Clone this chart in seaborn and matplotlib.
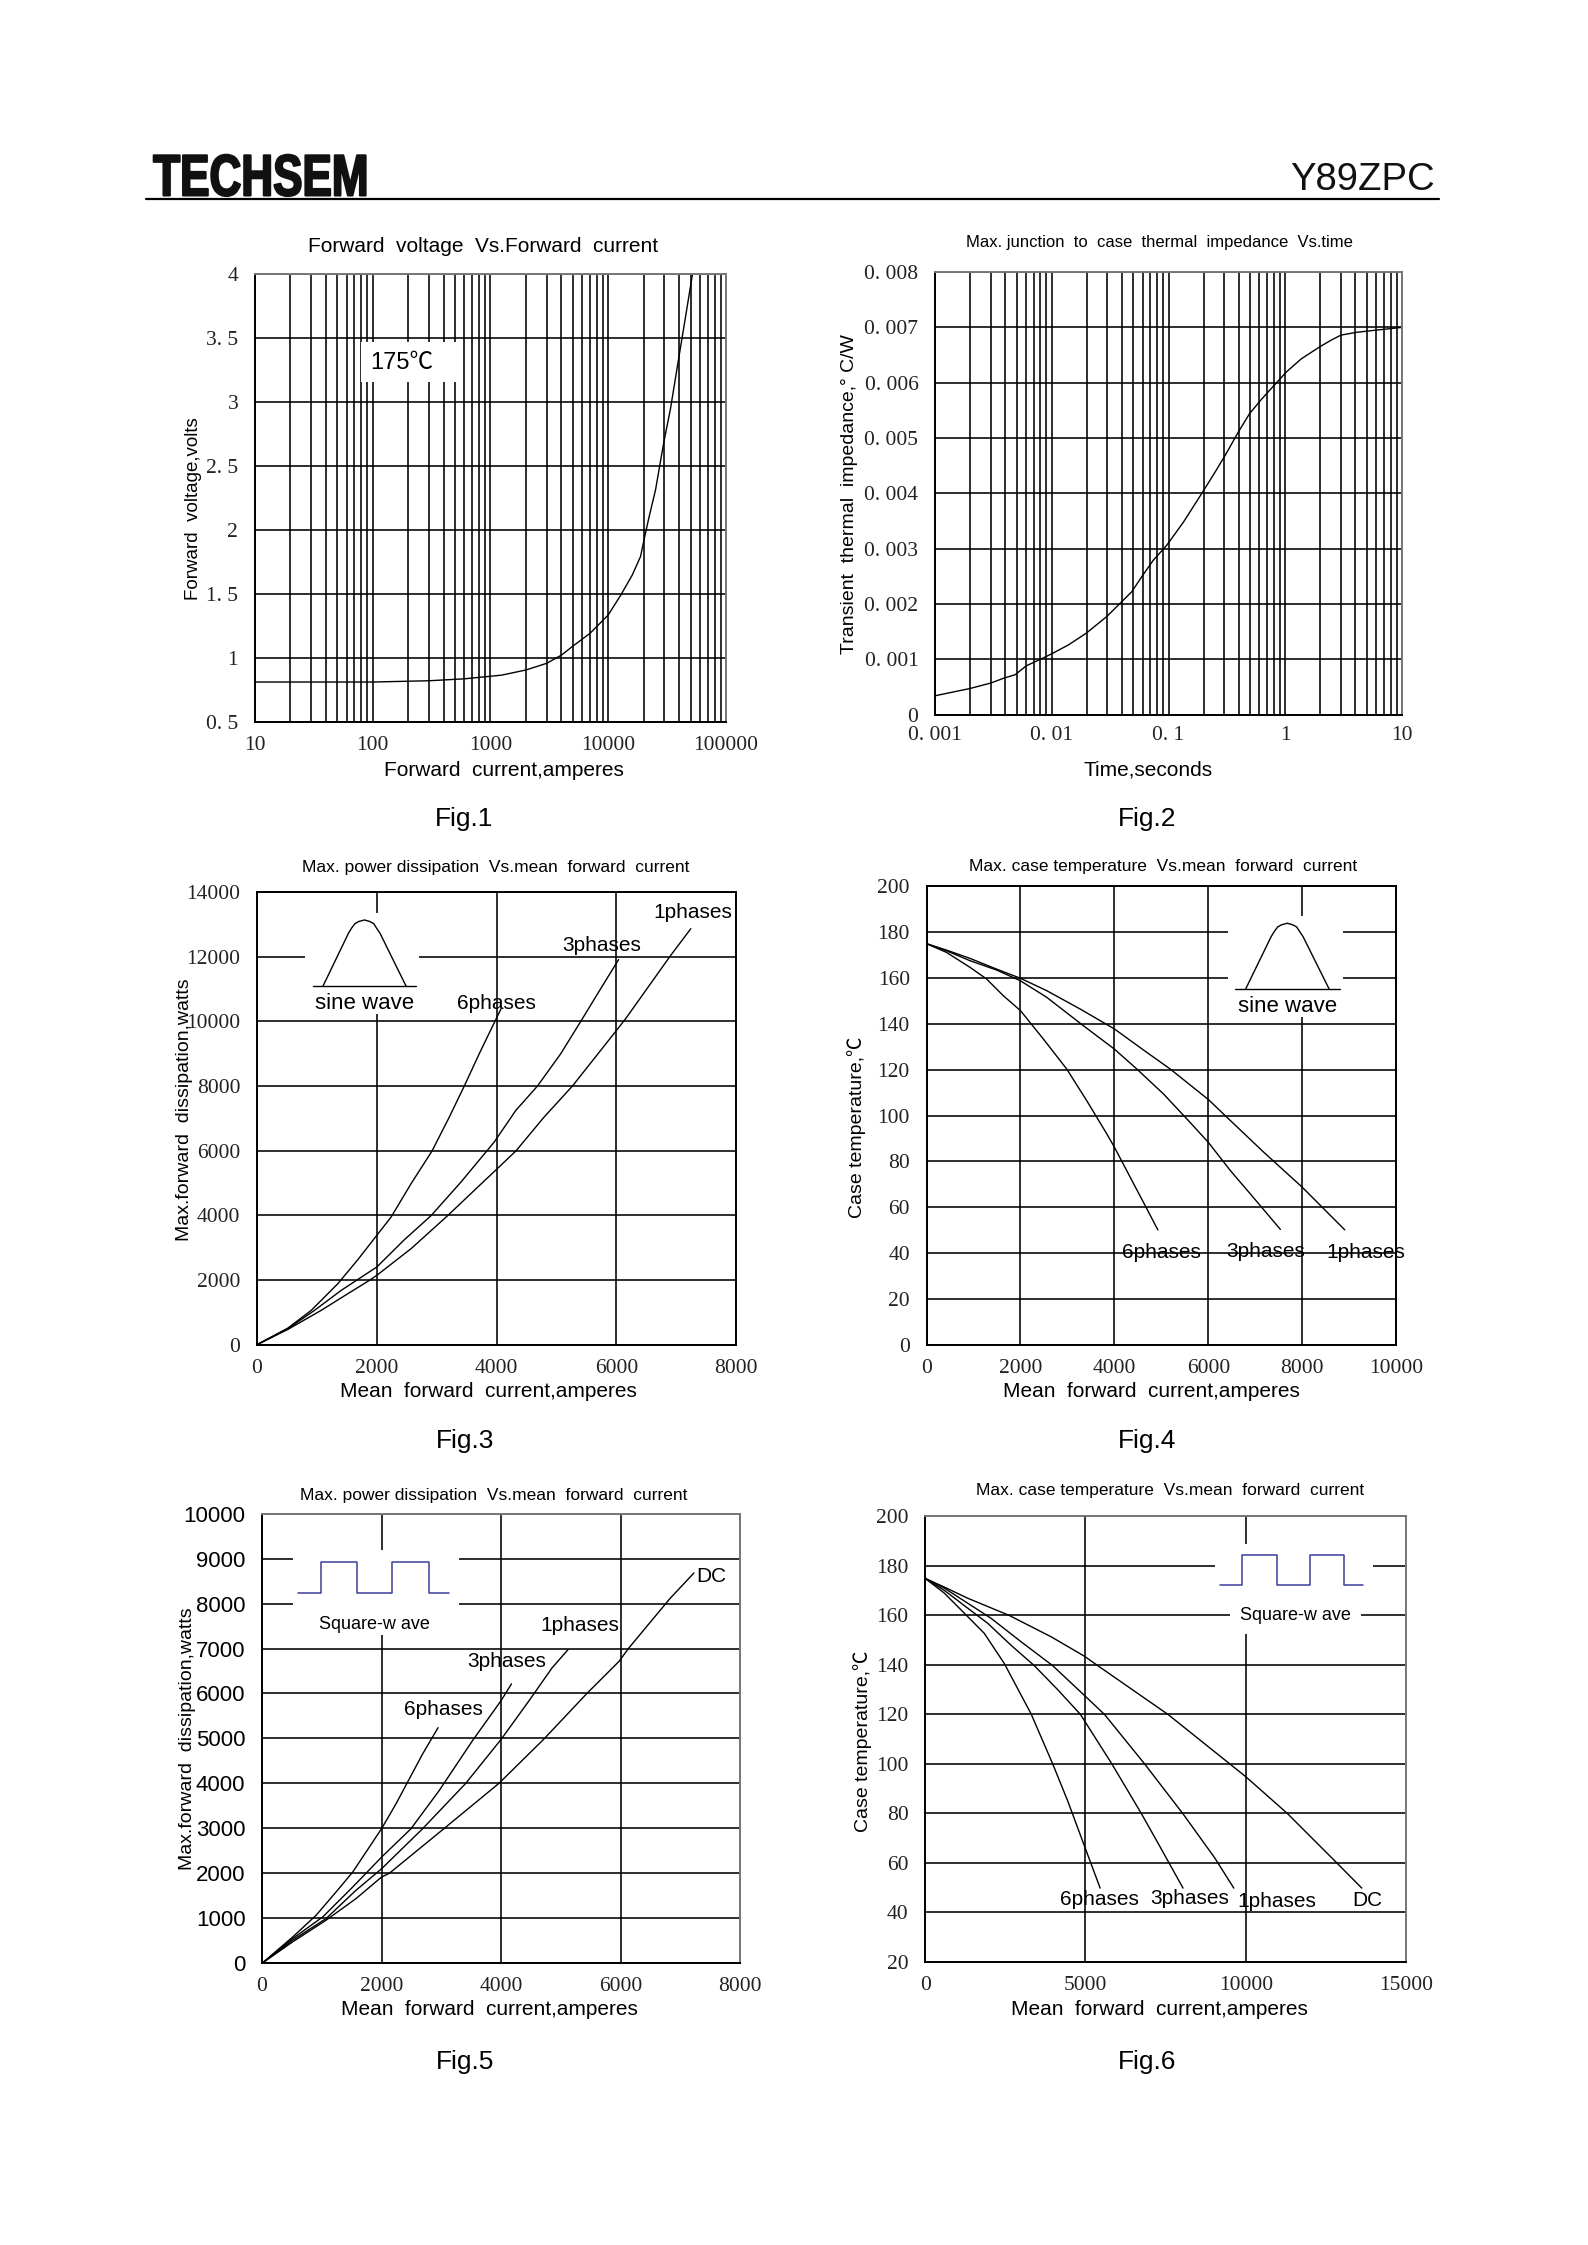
import matplotlib
matplotlib.use('Agg')
import matplotlib.pyplot as plt
from matplotlib.patches import Rectangle
from matplotlib.patheffects import AbstractPathEffect
from matplotlib.ticker import LogLocator, NullFormatter
from matplotlib.transforms import Affine2D
import seaborn as sns

# --- values ---
F1_CURRENT = [10, 30, 100, 300, 600, 1000, 1247, 2000, 3000, 4000, 5000, 7000, 10000, 12800, 16000, 18800, 20400, 22100, 25200, 29600, 33700, 39600, 45100, 52000]
F1_VOLTAGE = [0.81, 0.81, 0.81, 0.82, 0.835, 0.855, 0.864, 0.904, 0.956, 1.02, 1.09, 1.19, 1.334, 1.49, 1.646, 1.79, 1.946, 2.09, 2.31, 2.68, 2.94, 3.335, 3.65, 4.0]

F2_TIME = [0.001, 0.00111, 0.00198, 0.003, 0.0039, 0.00485, 0.00603, 0.00877, 0.01, 0.0139, 0.0197, 0.0295, 0.0397, 0.0484, 0.0589, 0.074, 0.0965, 0.1343, 0.1957, 0.25, 0.3046, 0.3945, 0.4945, 0.6265, 0.8415, 1.03, 1.37, 1.98, 2.48, 3.0, 4.05, 5.97, 10]
F2_IMPEDANCE = [0.00034, 0.00036, 0.00047, 0.00057, 0.00066, 0.00072, 0.00088, 0.00104, 0.0011, 0.00126, 0.00147, 0.00177, 0.00204, 0.00222, 0.00249, 0.00279, 0.00306, 0.00348, 0.00402, 0.00438, 0.00468, 0.0051, 0.00544, 0.0057, 0.006, 0.0062, 0.00643, 0.00665, 0.00677, 0.00686, 0.00691, 0.00695, 0.007]

F3_6P_X = [0, 517, 906, 1350, 1683, 2000, 2239, 2572, 2922, 3211, 3461, 3711, 3972, 4072]
F3_6P_Y = [0, 515, 1062, 1887, 2629, 3381, 3948, 4979, 5990, 7041, 8000, 9000, 10000, 10380]
F3_3P_X = [0, 517, 961, 1406, 2000, 2461, 2906, 3406, 3961, 4322, 4683, 5072, 5406, 5755, 6038]
F3_3P_Y = [0, 495, 1062, 1680, 2402, 3247, 3990, 5031, 6268, 7247, 8000, 9000, 10000, 11060, 11912]
F3_1P_X = [0, 517, 1072, 1517, 1878, 2000, 2572, 3183, 3628, 4000, 4322, 4794, 5267, 5628, 5972, 6155, 6905, 7244]
F3_1P_Y = [0, 474, 1062, 1577, 1990, 2144, 2969, 3990, 4773, 5423, 5990, 7041, 8000, 8845, 9649, 10082, 12034, 12868]

F4_6P_X = [0, 426, 924, 1279, 1635, 2000, 2488, 2985, 3411, 3838, 4000, 4336, 4691, 4925]
F4_6P_Y = [175, 171.2, 164.7, 159.6, 152.3, 145.8, 133.4, 120.3, 106.5, 92, 86.2, 73.1, 59.3, 50.1]
F4_3P_X = [0, 426, 924, 1493, 2000, 2559, 3340, 4000, 4478, 5046, 5544, 6000, 6468, 6894, 7534]
F4_3P_Y = [175, 171.9, 167.6, 163.5, 158.8, 151.6, 139.2, 129, 120.3, 109.4, 98.5, 88.3, 76, 65.8, 50.3]
F4_1P_X = [0, 426, 924, 1493, 2000, 2559, 3270, 4000, 4620, 5188, 6000, 6398, 7179, 8000, 8905]
F4_1P_Y = [175, 172.2, 168.6, 163.9, 159.9, 154.5, 146.5, 137.8, 128.6, 120.3, 107, 99.2, 84, 68.7, 50.1]

F5_6P_X = [0, 517, 906, 1239, 1517, 1794, 2000, 2239, 2461, 2683, 2944]
F5_6P_Y = [0, 590, 1070, 1587, 2030, 2583, 2996, 3542, 4096, 4649, 5240]
F5_3P_X = [0, 517, 1017, 1517, 2000, 2489, 2961, 3517, 4000, 4172]
F5_3P_Y = [0, 554, 1033, 1697, 2362, 2989, 3838, 4945, 5845, 6214]
F5_1P_X = [0, 517, 1072, 1572, 2000, 2683, 3406, 4000, 4461, 4850, 5117]
F5_1P_Y = [0, 517, 996, 1624, 2103, 2989, 4000, 4982, 5830, 6568, 6974]
F5_DC_X = [0, 517, 1072, 1572, 2000, 2128, 3044, 3961, 4711, 5433, 5972, 6128, 6821, 7224]
F5_DC_Y = [0, 480, 959, 1439, 1919, 2000, 2996, 4000, 4982, 6000, 6716, 7000, 8109, 8681]

F6_6P_X = [0, 594, 1271, 1844, 2469, 3302, 3979, 4448, 4969, 5458]
F6_6P_Y = [175, 169.1, 160.3, 152.8, 140.6, 120.3, 100, 85, 66.8, 49.8]
F6_3P_X = [0, 594, 1323, 1948, 2677, 3406, 4135, 4844, 5823, 6740, 7313, 8042]
F6_3P_Y = [175, 170.2, 163, 156.9, 148, 139.7, 130, 120, 100, 80, 66.8, 49.8]
F6_1P_X = [0, 594, 1323, 2052, 2990, 3979, 4958, 5594, 6844, 8042, 9031, 9625]
F6_1P_Y = [175, 171.1, 165, 158.9, 149.4, 139.7, 127.8, 120, 100, 79.8, 62, 49.8]
F6_DC_X = [0, 594, 1323, 2625, 3927, 4958, 5385, 7573, 9500, 10000, 11292, 12781, 13615]
F6_DC_Y = [175, 171.5, 167, 160, 151.4, 143.6, 139.7, 120, 100, 94.8, 80, 60.7, 49.8]

SINE_X = [0.156, 0.38, 0.407, 0.436, 0.47, 0.52, 0.565, 0.60, 0.625, 0.655, 0.884]
SINE_Y = [0.275, 0.80, 0.85, 0.894, 0.915, 0.93, 0.915, 0.894, 0.85, 0.80, 0.275]
SQUARE_X = [0.03, 0.17, 0.17, 0.39, 0.39, 0.60, 0.60, 0.82, 0.82, 0.94]
SQUARE_Y = [0, 0, 1, 1, 0, 0, 1, 1, 0, 0]

LOG1_TICKS = [10, 100, 1000, 10000, 100000]
LOG1_LABELS = ['10', '100', '1000', '10000', '100000']
F1_YTICKS = [0.5, 1, 1.5, 2, 2.5, 3, 3.5, 4]
F1_YLABELS = ['0. 5', '1', '1. 5', '2', '2. 5', '3', '3. 5', '4']
LOG2_TICKS = [0.001, 0.01, 0.1, 1, 10]
LOG2_LABELS = ['0. 001', '0. 01', '0. 1', '1', '10']
F2_YTICKS = [0, 0.001, 0.002, 0.003, 0.004, 0.005, 0.006, 0.007, 0.008]
F2_YLABELS = ['0', '0. 001', '0. 002', '0. 003', '0. 004', '0. 005', '0. 006', '0. 007', '0. 008']

SANS = ['Liberation Sans', 'Noto Sans CJK SC']
SERIF = 'Liberation Serif'
WAVE_BLUE = '#3b3f9a'

sns.set_theme(style='whitegrid')
plt.rcParams['font.family'] = SANS

W, H = 1588, 2245
SCALE = 1.432  # page pixels per layout unit
fig = plt.figure(figsize=(W / 100, H / 100), dpi=100, facecolor='white')


def fx(x):
    return x * SCALE / W


def fy(y):
    return 1 - y * SCALE / H


class SqueezedBold(AbstractPathEffect):
    # the logo face is a heavy condensed one, so narrow and thicken the glyphs
    def __init__(self, x0, factor, stroke):
        super().__init__()
        self.x0, self.factor, self.stroke = x0, factor, stroke

    def draw_path(self, renderer, gc, tpath, affine, rgbFace=None):
        squeeze = Affine2D().translate(-self.x0, 0).scale(self.factor, 1).translate(self.x0, 0)
        gc0 = renderer.new_gc()
        gc0.copy_properties(gc)
        gc0.set_linewidth(self.stroke)
        gc0.set_foreground(rgbFace)
        renderer.draw_path(gc0, tpath, affine + squeeze, rgbFace)
        gc0.restore()


def make_axes(l, r, t, b, edge='#777777'):
    ax = fig.add_axes([fx(l), fy(b), fx(r) - fx(l), fy(t) - fy(b)])
    ax.set_facecolor('white')
    ax.set_axisbelow(True)
    ax.grid(True, which='both', color='black', linewidth=1.15)
    for side in ['left', 'bottom']:
        ax.spines[side].set_color('black')
        ax.spines[side].set_linewidth(1.4)
    for side in ['top', 'right']:
        ax.spines[side].set_color(edge)
        ax.spines[side].set_linewidth(1.4)
    return ax


def curve(ax, xs, ys):
    sns.lineplot(x=xs, y=ys, ax=ax, color='black', linewidth=1.0, estimator=None, sort=False, errorbar=None)


def finish(ax, xticks, xlabels, yticks, ylabels, ysans=False, xpad=10, ypad=12):
    ax.set_xticks(xticks)
    ax.set_xticklabels(xlabels, family=SERIF, fontsize=15.5, color='#222222')
    ax.set_yticks(yticks)
    ax.set_yticklabels(ylabels, family='Liberation Sans' if ysans else SERIF, fontsize=16 if ysans else 15.5, color='#222222' if not ysans else 'black')
    ax.tick_params(axis='x', which='both', length=0, pad=xpad)
    ax.tick_params(axis='y', which='both', length=0, pad=ypad)


def labels(ax, xlabel, xpos, ylabel, ypos, title, tpos, tsize, cap, cpos, xsize=15, ysize=14):
    ax.set_xlabel(xlabel, fontsize=xsize, color='black', va='center', ha='center')
    ax.xaxis.set_label_coords(fx(xpos[0]), fy(xpos[1]), transform=fig.transFigure)
    ax.set_ylabel(ylabel, fontsize=ysize, color='black', va='center', ha='center')
    ax.yaxis.set_label_coords(fx(ypos[0]), fy(ypos[1]), transform=fig.transFigure)
    fig.text(fx(tpos[0]), fy(tpos[1]), title, fontsize=tsize, ha='center', va='center', color='black')
    fig.text(fx(cpos[0]), fy(cpos[1]), cap, fontsize=19, ha='center', va='center', color='black')


def wave_inset(ax, x0, x1, y0, y1):
    # white box that knocks the grid out behind the little waveform
    ins = ax.inset_axes([x0, y0, x1 - x0, y1 - y0], transform=ax.transData)
    ins.set_facecolor('white')
    ins.grid(False)
    ins.set_xticks([])
    ins.set_yticks([])
    for s in ins.spines.values():
        s.set_visible(False)
    ins.set_xlim(0, 1)
    ins.set_ylim(0, 1)
    ins.set_zorder(1.5)
    return ins


def sine_inset(ax, x0, x1, y0, y1):
    ins = wave_inset(ax, x0, x1, y0, y1)
    sns.lineplot(x=SINE_X, y=SINE_Y, ax=ins, color='black', linewidth=1.0, estimator=None, sort=False, errorbar=None)
    ins.plot([0.067, 0.975], [0.275, 0.275], color='black', lw=1.0)
    ins.text(0.52, 0.10, 'sine wave', fontsize=16, ha='center', va='center', color='black')


def square_inset(ax, x0, x1, y0, y1, ylo, yhi):
    ins = wave_inset(ax, x0, x1, y0, y1)
    sns.lineplot(x=SQUARE_X, y=SQUARE_Y, ax=ins, color=WAVE_BLUE, linewidth=1.1, estimator=None, sort=False, errorbar=None)
    ins.set_ylim(ylo, yhi)
    return ins


# header
logo = fig.text(fx(107), fy(136.5), 'TECHSEM', fontsize=42, fontweight='bold', family='Liberation Sans',
                ha='left', va='baseline', color='#111111')
logo.set_path_effects([SqueezedBold(107 * SCALE, 0.755, 1.5)])
fig.text(fx(1002), fy(132.5), 'Y89ZPC', fontsize=27.5, ha='right', va='baseline', color='#111111')
fig.add_artist(plt.Line2D([fx(102), fx(1005)], [fy(139), fy(139)], color='black', lw=1.6))

# Fig.1
ax = make_axes(178, 507, 191, 504)
curve(ax, F1_CURRENT, F1_VOLTAGE)
ax.set_xscale('log')
ax.set_xlim(10, 100000)
ax.set_ylim(0.5, 4)
finish(ax, LOG1_TICKS, LOG1_LABELS, F1_YTICKS, F1_YLABELS)
ax.xaxis.set_minor_locator(LogLocator(base=10, subs=range(2, 10), numticks=20))
ax.xaxis.set_minor_formatter(NullFormatter())
ax.add_patch(Rectangle((79, 3.149), 511 - 79, 3.465 - 3.149, facecolor='white', edgecolor='none', zorder=1.5))
ax.text(95, 3.30, '175℃', fontsize=17, ha='left', va='center', color='black', zorder=3)
labels(ax, 'Forward  current,amperes', (352, 538), 'Forward  voltage,volts', (135, 355),
       'Forward  voltage  Vs.Forward  current', (337, 172), 15, 'Fig.1', (324, 572), ysize=13.5)

# Fig.2
ax = make_axes(653, 979, 190, 499)
curve(ax, F2_TIME, F2_IMPEDANCE)
ax.set_xscale('log')
ax.set_xlim(0.001, 10)
ax.set_ylim(0, 0.008)
finish(ax, LOG2_TICKS, LOG2_LABELS, F2_YTICKS, F2_YLABELS, xpad=8)
ax.xaxis.set_minor_locator(LogLocator(base=10, subs=range(2, 10), numticks=20))
ax.xaxis.set_minor_formatter(NullFormatter())
labels(ax, 'Time,seconds', (802, 538), 'Transient  thermal  impedance,° C/W', (593, 345),
       'Max. junction  to  case  thermal  impedance  Vs.time', (810, 169), 12, 'Fig.2', (801, 572))

# Fig.3
ax = make_axes(179.5, 514, 623, 939, edge='black')
curve(ax, F3_6P_X, F3_6P_Y)
curve(ax, F3_3P_X, F3_3P_Y)
curve(ax, F3_1P_X, F3_1P_Y)
ax.set_xlim(0, 8000)
ax.set_ylim(0, 14000)
finish(ax, [0, 2000, 4000, 6000, 8000], ['0', '2000', '4000', '6000', '8000'],
       list(range(0, 14001, 2000)), [str(v) for v in range(0, 14001, 2000)])
sine_inset(ax, 804, 2710, 10233, 13358)
for txt, x, y in [('6phases', 3993, 10564), ('3phases', 5760, 12340), ('1phases', 7286, 13358)]:
    ax.text(x, y, txt, fontsize=15, ha='center', va='center', color='black', zorder=3)
labels(ax, 'Mean  forward  current,amperes', (341, 972), 'Max.forward  dissipation,watts', (129, 775),
       'Max. power dissipation  Vs.mean  forward  current', (346, 606), 12.5, 'Fig.3', (325, 1006))

# Fig.4
ax = make_axes(647, 975, 619, 939, edge='black')
curve(ax, F4_6P_X, F4_6P_Y)
curve(ax, F4_3P_X, F4_3P_Y)
curve(ax, F4_1P_X, F4_1P_Y)
ax.set_xlim(0, 10000)
ax.set_ylim(0, 200)
finish(ax, [0, 2000, 4000, 6000, 8000, 10000], ['0', '2000', '4000', '6000', '8000', '10000'],
       list(range(0, 201, 20)), [str(v) for v in range(0, 201, 20)])
sine_inset(ax, 6410, 8859, 143, 187)
for txt, x, y in [('6phases', 4996, 40), ('3phases', 7224, 40.6), ('1phases', 9346, 40)]:
    ax.text(x, y, txt, fontsize=15, ha='center', va='center', color='black', zorder=3)
labels(ax, 'Mean  forward  current,amperes', (804, 972), 'Case temperature,℃', (598, 787),
       'Max. case temperature  Vs.mean  forward  current', (812, 605), 12.5, 'Fig.4', (801, 1006))

# Fig.5
ax = make_axes(183, 517, 1057, 1371)
curve(ax, F5_6P_X, F5_6P_Y)
curve(ax, F5_3P_X, F5_3P_Y)
curve(ax, F5_1P_X, F5_1P_Y)
curve(ax, F5_DC_X, F5_DC_Y)
ax.set_xlim(0, 8000)
ax.set_ylim(0, 10000)
finish(ax, [0, 2000, 4000, 6000, 8000], ['0', '2000', '4000', '6000', '8000'],
       list(range(0, 10001, 1000)), [str(v) for v in range(0, 10001, 1000)], ysans=True)
ins = square_inset(ax, 513, 3286, 7300, 9182, -1.389, 1.389)
ins.text(0.495, -1.05, 'Square-w ave', fontsize=13, ha='center', va='center', color='black')
for txt, x, y in [('6phases', 3029, 5646), ('3phases', 4097, 6719), ('1phases', 5310, 7511), ('DC', 7522, 8593)]:
    ax.text(x, y, txt, fontsize=15, ha='center', va='center', color='black', zorder=3)
labels(ax, 'Mean  forward  current,amperes', (342, 1403), 'Max.forward  dissipation,watts', (131, 1214),
       'Max. power dissipation  Vs.mean  forward  current', (345, 1044), 12.5, 'Fig.5', (325, 1440))

# Fig.6
ax = make_axes(646, 982, 1059, 1370)
curve(ax, F6_6P_X, F6_6P_Y)
curve(ax, F6_3P_X, F6_3P_Y)
curve(ax, F6_1P_X, F6_1P_Y)
curve(ax, F6_DC_X, F6_DC_Y)
ax.set_xlim(0, 15000)
ax.set_ylim(20, 200)
finish(ax, [0, 5000, 10000, 15000], ['0', '5000', '10000', '15000'],
       list(range(20, 201, 20)), [str(v) for v in range(20, 201, 20)])
square_inset(ax, 9044, 13953, 161, 189, -0.958, 1.40)
ax.text(11550, 160, 'Square-w ave', fontsize=13, ha='center', va='center', color='black', zorder=3,
        bbox=dict(facecolor='white', edgecolor='none', pad=7))
for txt, x, y in [('6phases', 5426, 45.3), ('3phases', 8243, 45.6), ('1phases', 10956, 44.5), ('DC', 13798, 44.8)]:
    ax.text(x, y, txt, fontsize=15, ha='center', va='center', color='black', zorder=3)
labels(ax, 'Mean  forward  current,amperes', (810, 1403), 'Case temperature,℃', (602, 1216),
       'Max. case temperature  Vs.mean  forward  current', (817, 1041), 12.5, 'Fig.6', (801, 1440))

fig.savefig('out.png', dpi=100, facecolor='white')
